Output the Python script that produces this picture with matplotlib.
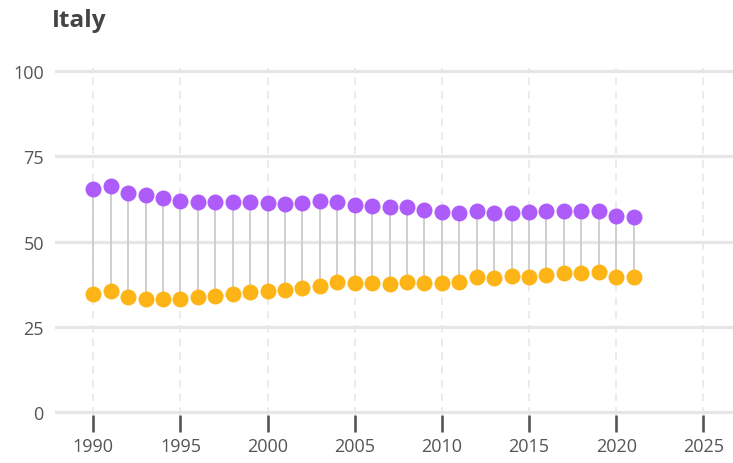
import matplotlib.pyplot as plt

# ── Data ────────────────────────────────────────────────────
years = list(range(1990, 2022))

upper = [65.4, 66.4, 64.2, 63.7, 62.7, 61.8, 61.7, 61.7, 61.7, 61.5,
         61.4, 61.1, 61.4, 61.9, 61.5, 60.8, 60.5, 60.0, 60.0, 59.3,
         58.7, 58.4, 58.9, 58.4, 58.4, 58.6, 58.9, 59.0, 59.0, 58.9,
         57.4, 57.2]

lower = [34.6, 35.6, 33.8, 33.1, 33.1, 33.1, 33.6, 33.9, 34.6, 35.1,
         35.4, 35.9, 36.5, 36.9, 38.0, 37.7, 37.8, 37.5, 38.2, 37.8,
         37.7, 38.0, 39.5, 39.3, 39.8, 39.5, 40.2, 40.7, 40.7, 41.0,
         39.5, 39.5]

x_ticks = [1990, 1995, 2000, 2005, 2010, 2015, 2020, 2025]
y_ticks = [0, 25, 50, 75, 100]

PURPLE = "#ad5cfa"
ORANGE = "#fdb417"
GRID   = "#e6e6e6"
TEXT   = "#555555"

plt.rcParams["font.family"] = ["Open Sans", "DejaVu Sans"]

# ── Plot ───────────────────────────────────────────────────
fig = plt.figure(figsize=(7.33, 4.64), dpi=100)
ax = fig.add_axes([0.075, 0.104, 0.925, 0.7466])

ax.vlines(years, lower, upper, color="#cccccc", lw=1.3, zorder=2)
ax.plot(years, upper, "o", color=PURPLE, ms=11.5, mew=0, zorder=3)
ax.plot(years, lower, "o", color=ORANGE, ms=11.5, mew=0, zorder=3)

ax.set_xlim(1987.8, 2026.7)
ax.set_ylim(-0.8, 100.8)
ax.set_xticks(x_ticks)
ax.set_yticks(y_ticks)

ax.yaxis.grid(True, color=GRID, lw=2.3, zorder=0)
ax.xaxis.grid(True, color=GRID, lw=1.1, ls=(0, (5, 4)), zorder=0)
ax.set_axisbelow(True)

for s in ax.spines.values():
    s.set_visible(False)

ax.tick_params(axis="x", length=12, width=1.9, color=TEXT, direction="out",
               labelsize=13, labelcolor=TEXT, pad=4)
ax.tick_params(axis="y", length=0, labelsize=13, labelcolor=TEXT, pad=8)

fig.text(0.071, 0.955, "Italy", fontsize=17.5, fontweight="bold",
         color="#444444", ha="left", va="center")

plt.savefig("out.png", dpi=100)
